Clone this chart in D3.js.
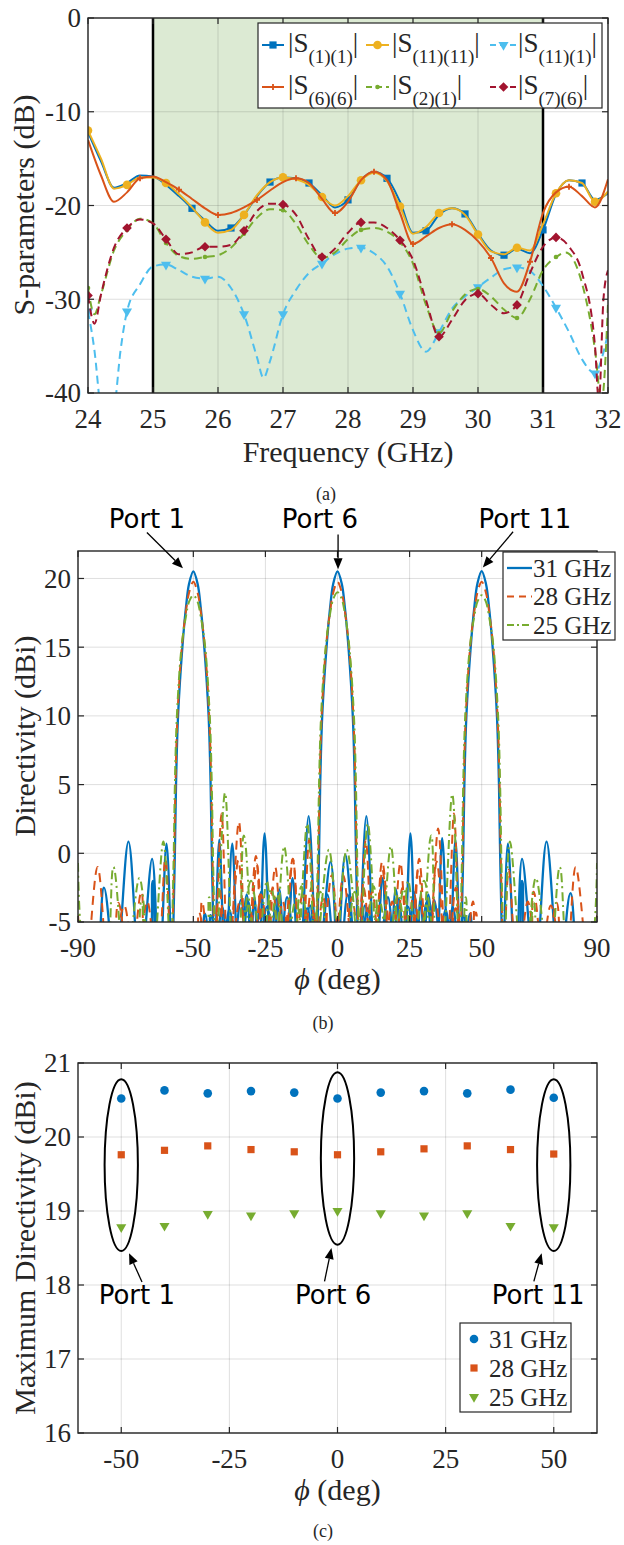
<!DOCTYPE html>
<html>
<head>
<meta charset="utf-8">
<script src="https://cdn.jsdelivr.net/npm/d3@7"></script>
<style>
body { margin: 0; background: #fff; }
</style>
</head>
<body>
<div id="chart"></div>
<script>
// ---------- (a) S-parameters ----------
var fGrid = [24.0,24.2,24.4,24.6,24.8,25.0,25.2,25.4,25.6,25.8,26.0,26.2,26.4,26.6,26.8,27.0,27.2,27.4,27.6,27.8,
             28.0,28.2,28.4,28.6,28.8,29.0,29.2,29.4,29.6,29.8,30.0,30.2,30.4,30.6,30.8,31.0,31.2,31.4,31.6,31.8,32.0];
var s11Vals = [-12.2,-15.3,-18.1,-17.6,-16.8,-16.9,-17.8,-19.0,-20.3,-21.6,-22.7,-22.4,-21.0,-19.0,-17.5,-17.0,-17.1,-17.6,-18.9,-20.2,
               -19.4,-17.3,-16.4,-17.1,-19.6,-22.9,-22.7,-21.0,-20.3,-20.9,-23.0,-24.8,-25.3,-24.6,-25.1,-22.6,-18.8,-17.3,-17.6,-19.4,-18.7];
var s1111Vals = [-12.0,-15.0,-18.2,-17.8,-17.0,-17.0,-17.6,-18.8,-20.2,-21.8,-22.9,-22.6,-21.0,-18.9,-17.5,-17.0,-17.2,-17.8,-19.1,-20.0,
                 -19.0,-17.3,-16.5,-17.4,-20.1,-23.0,-22.3,-20.8,-20.3,-21.0,-23.1,-24.9,-25.2,-24.5,-24.8,-22.0,-18.7,-17.3,-17.6,-19.6,-18.5];
var s66Vals = [-13.0,-16.8,-19.6,-18.6,-17.1,-16.9,-17.5,-18.3,-19.3,-20.3,-21.0,-20.8,-20.2,-19.4,-18.4,-17.5,-17.1,-17.6,-19.3,-20.8,
               -19.6,-17.3,-16.4,-17.3,-20.8,-24.1,-23.3,-22.4,-22.0,-22.6,-23.8,-25.6,-28.3,-29.2,-26.0,-20.8,-18.6,-18.0,-19.0,-20.2,-17.2];
var s111Pts = [[24.0,-31.3],[24.1,-35.5],[24.2,-42],[24.3,-44],[24.4,-42],[24.5,-35.5],[24.6,-31.3],[24.8,-28.4],[25.0,-26.5],[25.2,-26.3],
               [25.4,-26.9],[25.6,-27.6],[25.8,-27.8],[26.0,-27.6],[26.2,-28.8],[26.4,-31.6],[26.6,-36.2],[26.7,-38.4],[26.8,-36.6],[27.0,-31.6],
               [27.2,-29.0],[27.4,-27.2],[27.6,-26.2],[27.8,-25.2],[28.0,-24.6],[28.2,-24.5],[28.4,-25.1],[28.6,-26.5],[28.8,-29.4],[29.0,-33.3],
               [29.2,-35.6],[29.4,-33.5],[29.6,-31.0],[29.8,-29.7],[30.0,-28.7],[30.2,-27.7],[30.4,-26.8],[30.6,-26.6],[30.8,-27.0],[31.0,-28.6],
               [31.2,-30.9],[31.4,-33.5],[31.6,-36.4],[31.8,-37.9],[31.9,-36.4],[32.0,-33.6]];
var s21Pts = [[24.0,-28.8],[24.1,-31.6],[24.2,-29.5],[24.4,-24.8],[24.6,-22.6],[24.8,-21.4],[25.0,-21.9],[25.2,-24.0],[25.4,-25.4],[25.6,-25.7],
              [25.8,-25.5],[26.0,-25.3],[26.2,-24.5],[26.4,-23.0],[26.6,-21.3],[26.8,-20.4],[27.0,-20.5],[27.2,-22.0],[27.4,-24.2],[27.6,-25.6],
              [27.8,-25.0],[28.0,-23.6],[28.2,-22.6],[28.4,-22.4],[28.6,-22.8],[28.8,-23.9],[29.0,-26.2],[29.2,-30.6],[29.4,-33.6],[29.6,-31.3],
              [29.8,-29.5],[30.0,-28.9],[30.2,-29.7],[30.4,-31.1],[30.6,-32.0],[30.8,-30.0],[31.0,-26.9],[31.2,-25.5],[31.35,-25.0],[31.6,-28.3],
              [31.8,-35.4],[31.9,-41],[32.0,-30.5]];
var s76Pts = [[24.0,-29.6],[24.1,-32.6],[24.2,-29.5],[24.4,-24.5],[24.6,-22.4],[24.8,-21.5],[25.0,-21.9],[25.2,-23.6],[25.4,-25.2],[25.6,-25.0],
              [25.8,-24.4],[26.0,-24.4],[26.2,-24.2],[26.4,-22.7],[26.6,-20.6],[26.8,-19.8],[27.0,-19.9],[27.2,-21.0],[27.4,-23.6],[27.6,-25.5],
              [27.8,-24.6],[28.0,-22.9],[28.2,-21.8],[28.4,-21.8],[28.6,-22.4],[28.8,-23.7],[29.0,-25.8],[29.2,-30.1],[29.4,-34.0],[29.6,-32.2],
              [29.8,-30.1],[30.0,-29.4],[30.2,-30.6],[30.4,-31.5],[30.6,-30.6],[30.8,-27.2],[31.0,-24.4],[31.2,-23.4],[31.4,-24.4],[31.6,-27.2],
              [31.8,-35],[31.86,-41],[31.93,-30],[32.0,-26.9]];
var mk11 = [25.6,26.2,26.8,27.4,28.0,28.6,29.2,29.8,30.4,31.0,31.6];
var mkEvery = [24.0,24.6,25.2,25.8,26.4,27.0,27.6,28.2,28.8,29.4,30.0,30.6,31.2,31.8];
var mk66 = [24.8,25.4,26.0,26.6,27.2,27.8,28.4,29.0,29.6,30.2,30.8,31.4];
var mkTo312 = [24.0,24.6,25.2,25.8,26.4,27.0,27.6,28.2,28.8,29.4,30.0,30.6,31.2];
var freqTicks = [24,25,26,27,28,29,30,31,32];
var sTicks = [0,-10,-20,-30,-40];
var band = [25,31];

// ---------- (b) directivity patterns (nulls fall below the -5 dBi floor) ----------
var dir31p1 = [[-90,-9],[-85,-9],[-81,-2.5],[-77,-9],[-72.5,0.85],[-68.5,-9],[-64.3,-0.4],[-61.8,-9],[-59.3,0.7],[-57.3,-9],
  [-56.9,-5],[-56.4,0],[-56,5],[-55.3,10],[-53.8,15],[-52.6,17.8],[-51.5,19.6],[-50,20.52],[-48.5,19.6],[-47.4,17.8],[-46.2,15],
  [-44.7,10],[-44,5],[-43.6,0],[-43.1,-5],[-42.7,-9],[-41,1.0],[-38.9,-9],[-36.5,0.7],[-34.2,-9],[-31.5,-3.0],[-29.2,-9],
  [-26.5,-2.8],[-24,-9],[-21.2,-3.3],[-18.6,-9],[-15.5,-2.0],[-13,-9],[-9.5,-3.8],[-7,-9],[-2.4,-0.6],[0.5,-9],[3.5,-3.0],
  [6.5,-9],[10.5,-4.0],[13.5,-9],[17.5,-3.2],[20.5,-9],[24.5,-3.9],[27.5,-9],[31,-3.5],[34,-9],[37.5,-4.1],[40.5,-9],
  [44,-4.5],[47,-9],[90,-9]];
var dir31p6 = [[-90,-9],[-68,-9],[-64,-2.0],[-60.5,-9],[-49,-9],[-46,-4.4],[-43,-9],[-40,-3.9],[-37,-9],[-33.5,-3.4],[-30.8,-9],
  [-28.8,-3.2],[-27.3,-9],[-25.3,1.45],[-22.8,-9],[-20.2,-2.6],[-18,-9],[-15.6,-1.8],[-13.2,-9],[-10,2.7],[-7.3,-9],[-6.9,-5],
  [-6.4,0],[-6,5],[-5.3,10],[-3.8,15],[-2.6,17.8],[-1.5,19.6],[0,20.52],[1.5,19.6],[2.6,17.8],[3.8,15],[5.3,10],[6,5],[6.4,0],
  [6.9,-5],[7.3,-9],[10,2.7],[13.2,-9],[15.6,-1.8],[18,-9],[20.2,-2.6],[22.8,-9],[25.3,1.45],[27.3,-9],[28.8,-3.2],[30.8,-9],
  [33.5,-3.4],[37,-9],[40,-3.9],[43,-9],[46,-4.4],[49,-9],[60.5,-9],[64,-2.0],[68,-9],[90,-9]];
var dir31p11 = [[-90,-9],[-47,-9],[-44,-4.5],[-40.5,-9],[-37.5,-4.1],[-34,-9],[-31,-3.5],[-27.5,-9],[-24.5,-3.9],[-20.5,-9],
  [-17.5,-3.2],[-13.5,-9],[-10.5,-4.0],[-6.5,-9],[-3.5,-3.0],[-0.5,-9],[2.7,-0.1],[7,-9],[9.5,-3.8],[13,-9],[15.5,-2.0],
  [18.6,-9],[21.2,-3.3],[24,-9],[26.5,-2.8],[29.2,-9],[31.5,-3.0],[34.2,-9],[36.3,1.1],[38.7,-9],[40.9,1.0],[42.7,-9],
  [43.1,-5],[43.6,0],[44,5],[44.7,10],[46.2,15],[47.4,17.8],[48.5,19.6],[50,20.53],[51.5,19.6],[52.6,17.8],[53.8,15],[55.3,10],
  [56,5],[56.4,0],[56.9,-5],[57.3,-9],[59.1,0.7],[61.8,-9],[64,-0.4],[68.5,-9],[72.5,0.85],[77,-9],[80.8,-2.9],[85,-9],[90,-9]];
var dir28p1 = [[-90,-4.5],[-87.5,-9],[-83.2,-1.0],[-79,-9],[-74,-3.8],[-70,-9],[-66,-3.5],[-62.5,-9],[-59.7,-0.4],[-57.5,-9],
  [-57.1,-5],[-56.6,0],[-56.2,5],[-55.5,10],[-54,15],[-52.7,17.4],[-51.5,18.95],[-50,19.76],[-48.5,18.95],[-47.3,17.4],[-46,15],
  [-44.5,10],[-43.8,5],[-43.4,0],[-42.9,-5],[-42.5,-9],[-40.2,2.9],[-37.8,-9],[-34.2,2.3],[-31.5,-9],[-28.3,-0.2],[-25.5,-9],
  [-22.5,-2.5],[-19.5,-9],[-15.5,-0.4],[-12.5,-9],[-9,-2.5],[-6,-9],[-2,-1.6],[1.5,-9],[5,-3.2],[8.5,-9],[12,-2.8],[15.5,-9],
  [19,-3.5],[22.5,-9],[26.5,-3.0],[30,-9],[34,-3.6],[37.5,-9],[41,-4.0],[44.5,-9],[48,-4.3],[51.5,-9],[90,-9]];
var dir28p6 = [[-90,-9],[-80,-9],[-76,-3.6],[-72,-9],[-68,-2.8],[-64.5,-9],[-50,-9],[-47,-3.5],[-44,-9],[-41,-2.5],[-38,-9],
  [-34.4,-0.5],[-31.2,-9],[-28,-0.8],[-24.8,-9],[-21.6,-1.0],[-18.6,-9],[-15.5,-0.4],[-12.6,-9],[-9.8,1.0],[-7.5,-9],[-7.1,-5],
  [-6.6,0],[-6.2,5],[-5.5,10],[-4,15],[-2.7,17.4],[-1.5,18.95],[0,19.76],[1.5,18.95],[2.7,17.4],[4,15],[5.5,10],[6.2,5],[6.6,0],
  [7.1,-5],[7.5,-9],[9.8,1.0],[12.6,-9],[15.6,-1.2],[18.6,-9],[21.8,-0.7],[24.8,-9],[28,-1.2],[31.2,-9],[34.4,-0.6],[38,-9],
  [41,-2.5],[44,-9],[47,-3.5],[50,-9],[64.5,-9],[68,-2.8],[72,-9],[76,-3.6],[80,-9],[90,-9]];
var dir28p11 = [[-90,-9],[-51.5,-9],[-48,-4.3],[-44.5,-9],[-41,-4.0],[-37.5,-9],[-34,-3.6],[-30,-9],[-26.5,-3.0],[-22.5,-9],
  [-19,-3.5],[-15.5,-9],[-12,-2.8],[-8.5,-9],[-5,-3.2],[-1.5,-9],[2,-1.6],[6,-9],[9,-2.5],[12.5,-9],[15.5,-0.6],[19.5,-9],
  [22.5,-2.5],[25.5,-9],[28.3,-0.4],[31.5,-9],[34.9,1.8],[37.8,-9],[40.4,2.9],[42.5,-9],[42.9,-5],[43.4,0],[43.8,5],[44.5,10],
  [46,15],[47.3,17.4],[48.5,18.95],[50,19.77],[51.5,18.95],[52.7,17.4],[54,15],[55.5,10],[56.2,5],[56.6,0],[57.1,-5],[57.5,-9],
  [59.4,-1.2],[62.5,-9],[66,-3.5],[70,-9],[74,-3.8],[79,-9],[82.6,-1.0],[87.5,-9],[90,-4.5]];
var dir25p1 = [[-90,-0.7],[-86,-9],[-81.5,-9],[-77.7,-1.0],[-73.5,-9],[-68.7,-1.8],[-64.5,-9],[-60.4,0.85],[-57.7,-9],[-57.3,-5],
  [-56.8,0],[-56.4,5],[-55.7,10],[-54.1,15],[-52.6,17.2],[-51.4,18.35],[-50,18.78],[-48.6,18.35],[-47.4,17.2],[-45.9,15],[-44.3,10],
  [-43.6,5],[-43.2,0],[-42.7,-5],[-42.3,-9],[-39,4.4],[-35.5,-9],[-30,-2.0],[-25.5,-9],[-21,-3.0],[-16.5,-9],[-12.5,-2.4],
  [-8.5,-9],[-3,0.25],[1.5,-9],[6,-2.8],[10,-9],[14.5,-3.4],[18.5,-9],[23,-2.6],[27,-9],[31,-3.8],[35,-9],[90,-9]];
var dir25p6 = [[-90,-9],[-72,-9],[-68,-3.6],[-64,-9],[-47.5,-9],[-44.5,-3.2],[-41.5,-9],[-36.5,-9],[-32.5,1.3],[-28.5,-9],
  [-24.5,-2.0],[-22,-9],[-18.5,0.5],[-14.5,-9],[-10.5,2.15],[-7.7,-9],[-7.3,-5],[-6.8,0],[-6.4,5],[-5.7,10],[-4.1,15],[-2.6,17.4],
  [-1.4,18.55],[0,19.0],[1.4,18.55],[2.6,17.4],[4.1,15],[5.7,10],[6.4,5],[6.8,0],[7.3,-5],[7.7,-9],[10.5,2.15],[14.5,-9],
  [18.5,0.5],[22,-9],[24.5,-2.0],[28.5,-9],[32.5,1.3],[36.5,-9],[41.5,-9],[44.5,-3.2],[47.5,-9],[64,-9],[68,-3.6],[72,-9],[90,-9]];
var dir25p11 = [[-90,-9],[-35,-9],[-31,-3.8],[-27,-9],[-23,-2.6],[-18.5,-9],[-14.5,-3.4],[-10,-9],[-6,-2.8],[-1.5,-9],[3.2,0.25],
  [8.5,-9],[12.5,-2.4],[16.5,-9],[21,-3.0],[25.5,-9],[30,-2.0],[35.5,-9],[39.8,4.3],[42.3,-9],[42.7,-5],[43.2,0],[43.6,5],
  [44.3,10],[45.9,15],[47.4,17.2],[48.6,18.35],[50,18.78],[51.4,18.35],[52.6,17.2],[54.1,15],[55.7,10],[56.4,5],[56.8,0],[57.3,-5],
  [57.7,-9],[59.8,0.85],[64.5,-9],[68.8,-1.8],[73.5,-9],[77.1,-1.0],[81.5,-9],[86,-9],[90,-0.7]];
var phiTicksB = [-90,-50,-25,0,25,50,90];
var dirTicksB = [-5,0,5,10,15,20];

// ---------- (c) maximum directivity ----------
var phiC = [-50,-40,-30,-20,-10,0,10,20,30,40,50];
var dmax31 = [20.52,20.63,20.59,20.62,20.60,20.52,20.60,20.62,20.59,20.64,20.53];
var dmax28 = [19.76,19.82,19.88,19.83,19.80,19.76,19.80,19.84,19.88,19.83,19.77];
var dmax25 = [18.78,18.80,18.96,18.94,18.97,19.00,18.97,18.94,18.97,18.80,18.78];
var phiTicksC = [-50,-25,0,25,50];
var dirTicksC = [16,17,18,19,20,21];
var portNames = ["Port 1","Port 6","Port 11"];
var portPhi = [-50,0,50];
var ellipseMid = [19.62,19.71,19.62];
var ellipseHalf = [1.16,1.165,1.16];

// pick the first face that is really installed
function pickFont(list, generic) {
  var ctx = document.createElement("canvas").getContext("2d");
  var probe = "mmmmmmmmmmlli1WQ(deg)";
  ctx.font = "40px monospace";
  var base = ctx.measureText(probe).width;
  for (var i = 0; i < list.length; i++) {
    ctx.font = "40px '" + list[i] + "', monospace";
    if (Math.abs(ctx.measureText(probe).width - base) > 0.5) return "'" + list[i] + "', " + generic;
  }
  return generic;
}
var serif = pickFont(["Liberation Serif", "Times New Roman", "Tinos", "DejaVu Serif", "Noto Serif", "FreeSerif"], "serif");
var sans = pickFont(["DejaVu Sans", "Liberation Sans"], "sans-serif");

var ink = "#262626";
var svg = d3.select("#chart").append("svg").attr("width", 624).attr("height", 1545)
  .attr("font-family", serif).attr("fill", ink);
svg.append("rect").attr("width", 624).attr("height", 1545).attr("fill", "#fff");

function grid(g, x, y, xt, yt) {
  var gg = g.append("g").attr("stroke", ink).attr("stroke-opacity", 0.15).attr("stroke-width", 1);
  xt.forEach(function(t) { gg.append("line").attr("x1", x(t)).attr("x2", x(t)).attr("y1", y.range()[0]).attr("y2", y.range()[1]); });
  yt.forEach(function(t) { gg.append("line").attr("y1", y(t)).attr("y2", y(t)).attr("x1", x.range()[0]).attr("x2", x.range()[1]); });
}

function frame(g, x, y, xt, yt) {
  var x0 = x.range()[0], x1 = x.range()[1], y0 = y.range()[0], y1 = y.range()[1];
  var tk = g.append("g").attr("stroke", ink).attr("stroke-width", 1.2);
  xt.forEach(function(t) {
    tk.append("line").attr("x1", x(t)).attr("x2", x(t)).attr("y1", y0).attr("y2", y0 - 6);
    tk.append("line").attr("x1", x(t)).attr("x2", x(t)).attr("y1", y1).attr("y2", y1 + 6);
  });
  yt.forEach(function(t) {
    tk.append("line").attr("y1", y(t)).attr("y2", y(t)).attr("x1", x0).attr("x2", x0 + 6);
    tk.append("line").attr("y1", y(t)).attr("y2", y(t)).attr("x1", x1).attr("x2", x1 - 6);
  });
  g.append("rect").attr("x", x0).attr("y", y1).attr("width", x1 - x0).attr("height", y0 - y1)
    .attr("fill", "none").attr("stroke", ink).attr("stroke-width", 1.4);
  g.selectAll(null).data(xt).enter().append("text")
    .attr("x", function(d) { return x(d); }).attr("y", y0 + 35)
    .attr("text-anchor", "middle").attr("font-size", 27).text(function(d) { return d; });
  g.selectAll(null).data(yt).enter().append("text")
    .attr("x", x0 - 7).attr("y", function(d) { return y(d); }).attr("dy", "0.35em")
    .attr("text-anchor", "end").attr("font-size", 27).text(function(d) { return d; });
}

function ylabel(g, cx, cy, txt) {
  g.append("text").attr("transform", "translate(" + cx + "," + cy + ") rotate(-90)")
    .attr("text-anchor", "middle").attr("font-size", 30).text(txt);
}

function phiLabel(g, cx, by) {
  var t = g.append("text").attr("x", cx).attr("y", by).attr("text-anchor", "middle").attr("font-size", 30);
  t.append("tspan").attr("font-style", "italic").text("\u03d5");
  t.append("tspan").text(" (deg)");
}

function arrow(g, x1, y1, x2, y2) {
  var a = Math.atan2(y2 - y1, x2 - x1), L = 11, w = 4.5;
  var bx = x2 - L * Math.cos(a), by = y2 - L * Math.sin(a);
  g.append("line").attr("x1", x1).attr("y1", y1).attr("x2", bx).attr("y2", by)
    .attr("stroke", "#000").attr("stroke-width", 1.3);
  g.append("path").attr("fill", "#000")
    .attr("d", "M" + x2 + "," + y2 + "L" + (bx - w * Math.sin(a)) + "," + (by + w * Math.cos(a)) +
               "L" + (bx + w * Math.sin(a)) + "," + (by - w * Math.cos(a)) + "Z");
}

function marker(g, kind, color, px, py) {
  if (kind === "square") {
    g.append("rect").attr("x", px - 3.6).attr("y", py - 3.6).attr("width", 7.2).attr("height", 7.2).attr("fill", color);
  } else if (kind === "circle") {
    g.append("circle").attr("cx", px).attr("cy", py).attr("r", 4.3).attr("fill", color);
  } else if (kind === "dot") {
    g.append("circle").attr("cx", px).attr("cy", py).attr("r", 2.3).attr("fill", color);
  } else if (kind === "plus") {
    g.append("path").attr("d", "M" + (px - 3) + "," + py + "H" + (px + 3) + "M" + px + "," + (py - 3) + "V" + (py + 3))
      .attr("stroke", color).attr("stroke-width", 1.8);
  } else if (kind === "tri") {
    g.append("path").attr("d", d3.symbol().type(d3.symbolTriangle).size(44)())
      .attr("transform", "translate(" + px + "," + py + ") rotate(180)").attr("fill", color);
  } else if (kind === "diamond") {
    g.append("rect").attr("x", -3.4).attr("y", -3.4).attr("width", 6.8).attr("height", 6.8)
      .attr("transform", "translate(" + px + "," + py + ") rotate(45)").attr("fill", color);
  }
}

// ======================= panel (a) =======================
var xA = d3.scaleLinear().domain([24, 32]).range([88, 608]);
var yA = d3.scaleLinear().domain([-40, 0]).range([393, 18]);
var gA = svg.append("g");
gA.append("clipPath").attr("id", "clipA").append("rect")
  .attr("x", 88).attr("y", 18).attr("width", 520).attr("height", 375);
gA.append("rect").attr("x", xA(band[0])).attr("y", 18).attr("width", xA(band[1]) - xA(band[0])).attr("height", 375)
  .attr("fill", "#dceAd3");
grid(gA, xA, yA, freqTicks, sTicks);
band.forEach(function(b) {
  gA.append("line").attr("x1", xA(b)).attr("x2", xA(b)).attr("y1", 18).attr("y2", 393)
    .attr("stroke", "#000").attr("stroke-width", 2.5);
});

var sSeries = [
  { name: "(1)(1)", pts: fGrid.map(function(f, i) { return [f, s11Vals[i]]; }), color: "#0072BD", dash: null, mk: "square", at: mk11 },
  { name: "(11)(11)", pts: fGrid.map(function(f, i) { return [f, s1111Vals[i]]; }), color: "#EDB120", dash: null, mk: "circle", at: mkEvery },
  { name: "(11)(1)", pts: s111Pts, color: "#4DBEEE", dash: "8,5", mk: "tri", at: mkEvery },
  { name: "(6)(6)", pts: fGrid.map(function(f, i) { return [f, s66Vals[i]]; }), color: "#D95319", dash: null, mk: "plus", at: mk66 },
  { name: "(2)(1)", pts: s21Pts, color: "#77AC30", dash: "8,5", mk: "dot", at: mkTo312 },
  { name: "(7)(6)", pts: s76Pts, color: "#A2142F", dash: "8,5", mk: "diamond", at: mkTo312 }
];
var lineA = d3.line().x(function(d) { return xA(d[0]); }).y(function(d) { return yA(d[1]); }).curve(d3.curveMonotoneX);
var plotA = gA.append("g").attr("clip-path", "url(#clipA)");
sSeries.forEach(function(s) {
  plotA.append("path").attr("d", lineA(s.pts)).attr("fill", "none").attr("stroke", s.color)
    .attr("stroke-width", 2).attr("stroke-dasharray", s.dash);
  s.pts.forEach(function(p) {
    if (s.at.some(function(m) { return Math.abs(m - p[0]) < 0.01; })) marker(plotA, s.mk, s.color, xA(p[0]), yA(p[1]));
  });
});
frame(gA, xA, yA, freqTicks, sTicks);
ylabel(gA, 34, 205, "S-parameters (dB)");
gA.append("text").attr("x", xA(28)).attr("y", 462).attr("text-anchor", "middle").attr("font-size", 30).text("Frequency (GHz)");
svg.append("text").attr("x", 326).attr("y", 500).attr("text-anchor", "middle").attr("font-size", 18).text("(a)");

// legend (a)
var legA = gA.append("g");
legA.append("rect").attr("x", 258).attr("y", 23).attr("width", 344).attr("height", 85)
  .attr("fill", "#fff").attr("stroke", ink).attr("stroke-width", 1.2);
var legCols = [[262, 284, 288], [366, 389, 392], [490, 517, 518]];
var legRows = [45, 87];
sSeries.forEach(function(s, i) {
  var c = legCols[i % 3], r = legRows[Math.floor(i / 3)];
  legA.append("line").attr("x1", c[0]).attr("x2", c[1]).attr("y1", r).attr("y2", r)
    .attr("stroke", s.color).attr("stroke-width", 2).attr("stroke-dasharray", s.dash ? "6,4" : null);
  marker(legA, s.mk, s.color, (c[0] + c[1]) / 2, r);
  var t = legA.append("text").attr("x", c[2]).attr("y", r + 7).attr("font-size", 27);
  t.append("tspan").text("|S");
  t.append("tspan").attr("font-size", 19).attr("dy", 11).text(s.name);
  t.append("tspan").attr("dy", -11).text("|");
});

// ======================= panel (b) =======================
var xB = d3.scaleLinear().domain([-90, 90]).range([78, 597]);
var yB = d3.scaleLinear().domain([-5, 22]).range([922, 551]);
var gB = svg.append("g");
gB.append("clipPath").attr("id", "clipB").append("rect")
  .attr("x", 78).attr("y", 551).attr("width", 519).attr("height", 371);
grid(gB, xB, yB, phiTicksB, dirTicksB);
var dirSeries = [
  { label: "31 GHz", color: "#0072BD", dash: null, w: 2.3, curves: [dir31p1, dir31p6, dir31p11] },
  { label: "28 GHz", color: "#D95319", dash: "9,6", w: 2, curves: [dir28p1, dir28p6, dir28p11] },
  { label: "25 GHz", color: "#77AC30", dash: "9,4,2,4", w: 2, curves: [dir25p1, dir25p6, dir25p11] }
];
var lineB = d3.line().x(function(d) { return xB(d[0]); }).y(function(d) { return yB(d[1]); })
  .curve(d3.curveCatmullRom.alpha(0.5));
var plotB = gB.append("g").attr("clip-path", "url(#clipB)");
dirSeries.forEach(function(s) {
  s.curves.forEach(function(c) {
    plotB.append("path").attr("d", lineB(c)).attr("fill", "none").attr("stroke", s.color)
      .attr("stroke-width", s.w).attr("stroke-dasharray", s.dash);
  });
});
frame(gB, xB, yB, phiTicksB, dirTicksB);
ylabel(gB, 35, 736, "Directivity (dBi)");
phiLabel(gB, xB(0), 989);
svg.append("text").attr("x", 323).attr("y", 1029).attr("text-anchor", "middle").attr("font-size", 18).text("(b)");

// legend (b)
var legB = gB.append("g");
legB.append("rect").attr("x", 503).attr("y", 552).attr("width", 112).attr("height", 88)
  .attr("fill", "#fff").attr("stroke", ink).attr("stroke-width", 1.2);
dirSeries.forEach(function(s, i) {
  var r = 568 + i * 28.5;
  legB.append("line").attr("x1", 507).attr("x2", 532).attr("y1", r).attr("y2", r)
    .attr("stroke", s.color).attr("stroke-width", s.w).attr("stroke-dasharray", s.dash ? (i === 1 ? "7,5" : "7,3,2,3") : null);
  legB.append("text").attr("x", 533).attr("y", r + 8.5).attr("font-size", 25).text(s.label);
});

// port annotations (b)
var portLabelB = [-66.1, -6.1, 65];
var arrowFromB = [[-66.1, 23.35], [0.2, 23.2], [60.9, 23.4]];
var arrowToB = [[-53.6, 20.75], [0.2, 20.68], [50.4, 20.8]];
portNames.forEach(function(n, i) {
  gB.append("text").attr("font-family", sans).attr("fill", "#000").attr("x", xB(portLabelB[i])).attr("y", 528)
    .attr("text-anchor", "middle").attr("font-size", 26).text(n);
  arrow(gB, xB(arrowFromB[i][0]), yB(arrowFromB[i][1]), xB(arrowToB[i][0]), yB(arrowToB[i][1]));
});

// ======================= panel (c) =======================
var xC = d3.scaleLinear().domain([-60, 60]).range([78, 597]);
var yC = d3.scaleLinear().domain([16, 21]).range([1433, 1063]);
var gC = svg.append("g");
grid(gC, xC, yC, phiTicksC, dirTicksC);
var maxSeries = [
  { label: "31 GHz", color: "#0072BD", mk: "circle", vals: dmax31 },
  { label: "28 GHz", color: "#D95319", mk: "square", vals: dmax28 },
  { label: "25 GHz", color: "#77AC30", mk: "tri", vals: dmax25 }
];
maxSeries.forEach(function(s) {
  phiC.forEach(function(p, i) { marker(gC, s.mk, s.color, xC(p), yC(s.vals[i])); });
});
portPhi.forEach(function(p, i) {
  gC.append("ellipse").attr("cx", xC(p)).attr("cy", yC(ellipseMid[i]))
    .attr("rx", xC(p + 3.85) - xC(p)).attr("ry", yC(ellipseMid[i] - ellipseHalf[i]) - yC(ellipseMid[i]))
    .attr("fill", "none").attr("stroke", "#000").attr("stroke-width", 2);
});
frame(gC, xC, yC, phiTicksC, dirTicksC);
ylabel(gC, 35, 1248, "Maximum Directivity (dBi)");
phiLabel(gC, xC(0), 1500);
svg.append("text").attr("x", 323).attr("y", 1537).attr("text-anchor", "middle").attr("font-size", 18).text("(c)");

// legend (c)
var legC = gC.append("g");
legC.append("rect").attr("x", 460).attr("y", 1323).attr("width", 111).attr("height", 89)
  .attr("fill", "#fff").attr("stroke", ink).attr("stroke-width", 1.2);
maxSeries.forEach(function(s, i) {
  var r = 1339 + i * 29;
  marker(legC, s.mk, s.color, 474, r);
  legC.append("text").attr("x", 489).attr("y", r + 8.5).attr("font-size", 25).text(s.label);
});

// port annotations (c)
var portLabelC = [-46.4, -1.0, 46.4];
var arrowFromC = [[-45.2, 18.04], [-3.0, 18.05], [45.4, 18.05]];
var arrowToC = [[-48.2, 18.43], [-1.4, 18.5], [47.2, 18.43]];
portNames.forEach(function(n, i) {
  gC.append("text").attr("font-family", sans).attr("fill", "#000").attr("x", xC(portLabelC[i])).attr("y", 1304)
    .attr("text-anchor", "middle").attr("font-size", 26).text(n);
  arrow(gC, xC(arrowFromC[i][0]), yC(arrowFromC[i][1]), xC(arrowToC[i][0]), yC(arrowToC[i][1]));
});
</script>
</body>
</html>
